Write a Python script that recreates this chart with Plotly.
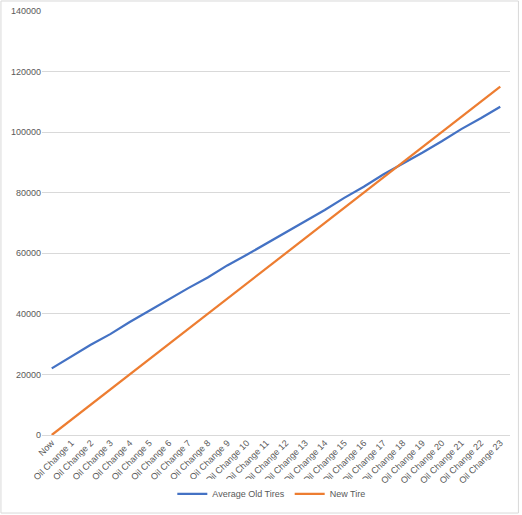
import plotly.graph_objects as go

# Categorias del eje x
categorias = ["Now"] + ["Oil Change %d" % i for i in range(1, 24)]

# Valores
old_tires = [22000, 26000, 29800, 33300, 37300, 41000, 44800, 48500, 52000, 56000,
             59500, 63200, 67000, 70700, 74300, 78300, 82000, 86000, 89500, 93200,
             97000, 101000, 104600, 108400]
new_tire = [0, 5000, 10000, 15000, 20000, 25000, 30000, 35000, 40000, 45000,
            50000, 55000, 60000, 65000, 70000, 75000, 80000, 85000, 90000, 95000,
            100000, 105000, 110000, 115000]

fig = go.Figure()
fig.add_trace(go.Scatter(x=categorias, y=old_tires, mode="lines", name="Average Old Tires",
                         line=dict(color="#4472C4", width=2.25)))
fig.add_trace(go.Scatter(x=categorias, y=new_tire, mode="lines", name="New Tire",
                         line=dict(color="#ED7D31", width=2.25)))

fig.update_layout(
    width=522, height=515,
    margin=dict(l=42, r=12, t=11, b=80, autoexpand=False),
    paper_bgcolor="white", plot_bgcolor="white",
    font=dict(family="Liberation Sans, Arial", size=9, color="#595959"),
    showlegend=True,
    legend=dict(orientation="h", x=0.49, xanchor="center", y=-0.139, yanchor="middle",
                itemwidth=30, font=dict(size=9, color="#595959")),
    xaxis=dict(type="category", tickangle=-45, showgrid=False, showline=False,
               ticks="", tickfont=dict(size=9, color="#595959"),
               range=[-0.5, 23.5], automargin=False),
    yaxis=dict(range=[0, 140000], dtick=20000, tickformat="d", showgrid=True,
               gridcolor="#d9d9d9", gridwidth=1, zeroline=True, zerolinecolor="#d9d9d9",
               zerolinewidth=1, tickfont=dict(size=9, color="#595959"), ticks="",
               showline=False, automargin=False),
    # borde gris del area del grafico
    shapes=[dict(type="rect", xref="paper", yref="paper",
                 x0=-0.0877, x1=1.018, y0=-0.184, y1=1.0236,
                 line=dict(color="#d9d9d9", width=1))],
)

# quitar el margen por defecto del body para que la figura llene la ventana
fig.write_html("out.html", config={"displayModeBar": False},
               post_script="document.body.style.margin='0';")
